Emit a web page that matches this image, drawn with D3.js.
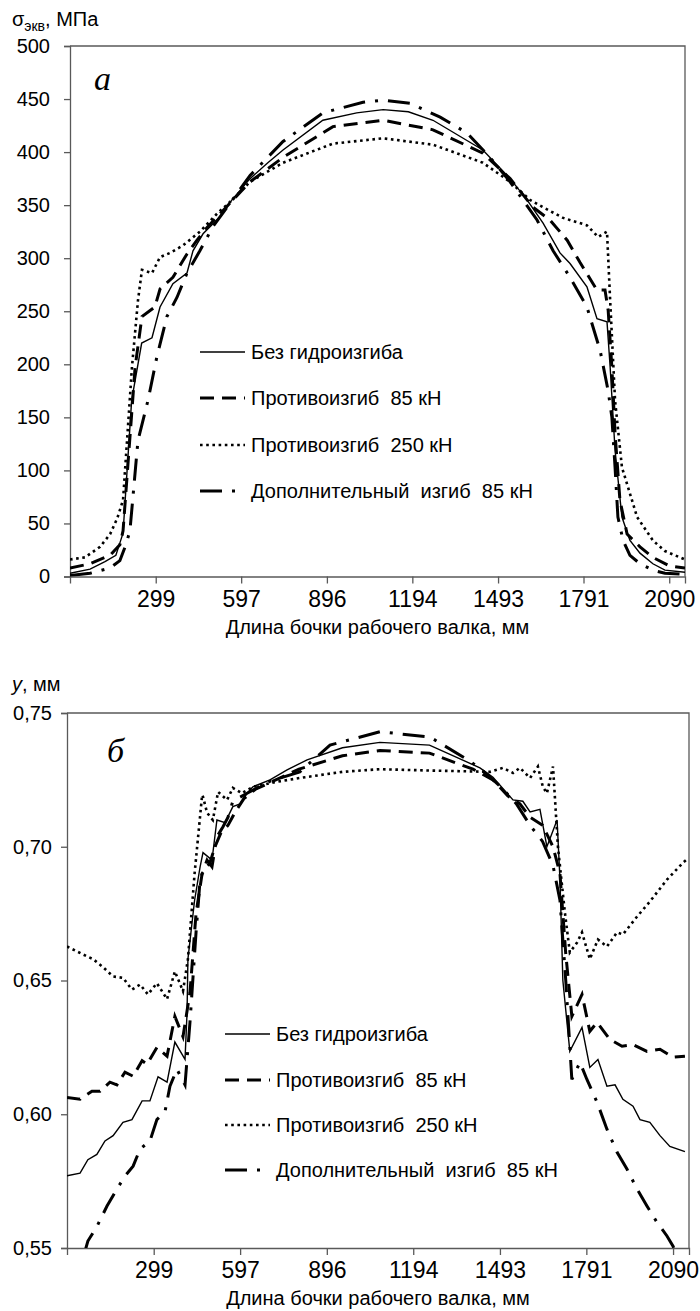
<!doctype html>
<html>
  <head>
    <meta charset="utf-8">
    <title>roll barrel stress and deflection</title>
    <script src="https://d3js.org/d3.v7.min.js"></script>
    <style type="text/css">
      body { margin: 0; background: #fff; }
      svg { display: block; }
      text { font-family: Arial, "Liberation Sans", sans-serif; fill: #000; }
      .xaxis text { font-family: "Liberation Sans Narrow", "Arial Narrow", sans-serif; font-size: 23px; }
      .yaxis text { font-size: 20px; }
      .panel-letter { font-family: "Liberation Serif", "DejaVu Serif", serif; font-style: italic; font-size: 34px; }
    </style>
  </head>
  <body>
    <svg id="chart"></svg>
    <script type="text/javascript">
      // tick labels
      var xTicks = [299, 597, 896, 1194, 1493, 1791, 2090];
      var sigmaTicks = [0, 50, 100, 150, 200, 250, 300, 350, 400, 450, 500];
      var defTicks = [0.55, 0.60, 0.65, 0.70, 0.75];

      var seriesNames = ['Без гидроизгиба', 'Противоизгиб  85 кН', 'Противоизгиб  250 кН', 'Дополнительный  изгиб  85 кН'];

      // (а) equivalent stress, MPa  [position mm, value]
      var sigmaNone = [[0,3],[70,7],[122,14],[160,20],[178,35],[185,41],[215,166],[250,220],[286,225],[314,254],[359,276],[408,286],[429,307],[464,323],[523,339],[565,355],[628,375],[690,390],[743,402],[882,430],[1000,437],[1092,440],[1180,438],[1266,430],[1440,402],[1535,375],[1594,355],[1650,333],[1709,305],[1744,295],[1803,273],[1838,243],[1873,240],[1884,197],[1901,119],[1925,56],[1953,34],[1988,22],[2033,12],[2075,6],[2145,4]];
      var sigmaCounter85 = [[0,8],[70,12],[140,20],[174,30],[185,43],[227,197],[251,245],[296,254],[314,271],[359,282],[408,304],[443,317],[478,329],[534,345],[628,372],[743,395],[917,424],[1092,430],[1266,421],[1440,399],[1535,375],[1615,348],[1674,336],[1734,317],[1779,296],[1838,270],[1866,270],[1877,251],[1890,197],[1901,135],[1918,72],[1943,40],[1988,28],[2033,18],[2090,10],[2145,8]];
      var sigmaCounter250 = [[0,16],[52,18],[105,28],[140,40],[165,55],[185,72],[216,197],[237,260],[251,289],[286,286],[314,301],[349,305],[394,312],[453,325],[513,342],[558,353],[628,372],[743,390],[917,408],[1092,413],[1266,407],[1440,390],[1535,372],[1604,355],[1650,348],[1720,338],[1803,331],[1842,320],[1873,325],[1884,260],[1901,166],[1925,103],[1978,56],[2033,34],[2075,24],[2145,16]];
      var sigmaExtra85 = [[0,1],[70,3],[140,8],[174,15],[195,30],[209,43],[237,128],[272,166],[303,207],[338,245],[373,263],[408,286],[453,307],[499,330],[548,348],[628,378],[743,410],[882,437],[1022,447],[1092,449],[1186,446],[1291,433],[1385,418],[1465,395],[1535,372],[1629,336],[1685,307],[1744,282],[1803,254],[1849,213],[1877,175],[1890,150],[1901,103],[1911,56],[1929,34],[1953,20],[1988,12],[2033,6],[2075,3],[2145,2]];

      // (б) deflection y, mm
      var defNone = [[0,0.577],[45,0.578],[72,0.583],[103,0.585],[131,0.590],[159,0.592],[193,0.597],[224,0.598],[259,0.605],[286,0.605],[314,0.614],[345,0.612],[372,0.627],[407,0.6205],[414,0.638],[417,0.658],[440,0.680],[459,0.6925],[469,0.6978],[500,0.695],[517,0.710],[545,0.709],[572,0.715],[597,0.716],[621,0.720],[641,0.7224],[700,0.725],[759,0.7287],[828,0.7325],[950,0.737],[1079,0.739],[1250,0.738],[1424,0.7295],[1469,0.726],[1538,0.7175],[1572,0.717],[1597,0.713],[1631,0.714],[1655,0.700],[1690,0.710],[1700,0.688],[1710,0.650],[1734,0.6235],[1776,0.6325],[1803,0.6175],[1831,0.6205],[1862,0.6105],[1890,0.611],[1917,0.6056],[1952,0.603],[1976,0.598],[2010,0.597],[2045,0.592],[2079,0.588],[2131,0.586]];
      var defCounter85 = [[0,0.6063],[45,0.6056],[86,0.6086],[114,0.6086],[148,0.612],[172,0.611],[200,0.6157],[228,0.6142],[259,0.620],[276,0.6187],[310,0.625],[345,0.6217],[372,0.6366],[400,0.629],[424,0.6455],[445,0.675],[466,0.690],[493,0.694],[510,0.700],[530,0.705],[555,0.708],[580,0.713],[610,0.718],[650,0.7215],[720,0.725],[800,0.729],[950,0.734],[1079,0.736],[1250,0.735],[1400,0.729],[1469,0.725],[1520,0.719],[1562,0.716],[1597,0.711],[1640,0.708],[1676,0.700],[1700,0.690],[1720,0.660],[1741,0.6366],[1776,0.6448],[1803,0.631],[1828,0.6343],[1872,0.628],[1914,0.6254],[1952,0.626],[2000,0.6235],[2045,0.6243],[2090,0.6213],[2131,0.6217]];
      var defCounter250 = [[0,0.6627],[69,0.659],[90,0.658],[124,0.655],[159,0.6515],[193,0.651],[224,0.6466],[252,0.6485],[279,0.6448],[310,0.649],[345,0.643],[372,0.6534],[400,0.646],[417,0.658],[440,0.690],[466,0.7194],[469,0.7187],[483,0.7127],[503,0.710],[521,0.7205],[552,0.7175],[572,0.722],[603,0.720],[641,0.7224],[724,0.7243],[803,0.7257],[950,0.728],[1079,0.729],[1250,0.7285],[1459,0.728],[1503,0.7295],[1538,0.7276],[1562,0.7295],[1597,0.7257],[1624,0.730],[1641,0.7224],[1655,0.720],[1676,0.730],[1693,0.700],[1717,0.6754],[1734,0.6605],[1759,0.6642],[1776,0.668],[1803,0.658],[1831,0.6653],[1862,0.6627],[1897,0.668],[1917,0.6672],[1966,0.6739],[2010,0.6795],[2069,0.6877],[2124,0.694],[2135,0.695]];
      var defExtra85 = [[60,0.548],[72,0.5526],[103,0.558],[138,0.5657],[172,0.572],[200,0.5769],[228,0.5806],[252,0.587],[286,0.590],[310,0.598],[338,0.601],[355,0.6105],[379,0.6168],[407,0.611],[424,0.6343],[445,0.668],[459,0.6877],[483,0.695],[500,0.6925],[517,0.7037],[538,0.7075],[555,0.711],[572,0.717],[621,0.720],[700,0.7245],[803,0.728],[907,0.738],[1079,0.743],[1252,0.741],[1390,0.732],[1450,0.727],[1500,0.722],[1550,0.716],[1597,0.708],[1640,0.702],[1676,0.693],[1700,0.680],[1720,0.650],[1741,0.613],[1769,0.6194],[1793,0.613],[1828,0.6045],[1862,0.5944],[1897,0.5858],[1931,0.5795],[1966,0.572],[2000,0.5657],[2034,0.5597],[2069,0.5545],[2090,0.5507],[2100,0.548]];

      // line looks, same order as seriesNames
      var styles = [
        { width: 1.4, dash: null, legendLen: 45 },
        { width: 3, dash: '14,8', legendLen: 45 },
        { width: 2.6, dash: '2.6,3.6', legendLen: 45 },
        { width: 3, dash: '22,10,3,10', legendLen: 35 }
      ];

      var W = 700, H = 1311;
      var svg = d3.select('#chart').attr('width', W).attr('height', H);

      var commaFmt = d3.formatLocale({ decimal: ',', thousands: ' ', grouping: [3], currency: ['', ''] }).format('.2f');

      function drawPanel(p) {
        var x = d3.scaleLinear().domain([0, 2145]).range([p.left, p.right]);
        var y = d3.scaleLinear().domain(p.domain).range([p.bottom, p.top]);
        var g = svg.append('g');

        g.append('clipPath').attr('id', p.id + '-clip')
          .append('rect')
          .attr('x', p.left).attr('y', p.top)
          .attr('width', p.right - p.left).attr('height', p.bottom - p.top);

        // frame (top and right)
        g.append('path')
          .attr('d', 'M' + p.left + ',' + p.top + 'H' + p.right + 'V' + p.bottom)
          .attr('fill', 'none').attr('stroke', '#595959').attr('stroke-width', 1.3);

        var yAxis = g.append('g').attr('class', 'yaxis')
          .attr('transform', 'translate(' + p.left + ',0)')
          .call(d3.axisLeft(y).tickValues(p.ticks).tickSize(6).tickPadding(p.yPad).tickFormat(p.fmt));
        var xAxis = g.append('g').attr('class', 'xaxis')
          .attr('transform', 'translate(0,' + p.bottom + ')')
          .call(d3.axisBottom(x).tickValues(xTicks).tickSize(7).tickPadding(7).tickFormat(d3.format('d')));
        [yAxis, xAxis].forEach(function(a) {
          a.select('.domain').attr('stroke', '#595959').attr('stroke-width', 1.3);
          a.selectAll('.tick line').attr('stroke', '#595959').attr('stroke-width', 1.3);
          a.selectAll('.tick text').attr('fill', '#000');
        });

        var line = d3.line()
          .x(function(d) { return x(d[0]); })
          .y(function(d) { return y(d[1]); });

        g.append('g').attr('clip-path', 'url(#' + p.id + '-clip)')
          .selectAll('path')
          .data(p.series)
          .enter()
          .append('path')
          .attr('d', function(d) { return line(d); })
          .attr('fill', 'none')
          .attr('stroke', '#000')
          .attr('stroke-width', function(d, i) { return styles[i].width; })
          .attr('stroke-dasharray', function(d, i) { return styles[i].dash; });

        // legend
        var lg = g.append('g');
        seriesNames.forEach(function(name, i) {
          var ly = p.legendY[i];
          lg.append('line')
            .attr('x1', p.legendX).attr('x2', p.legendX + styles[i].legendLen)
            .attr('y1', ly).attr('y2', ly)
            .attr('stroke', '#000')
            .attr('stroke-width', styles[i].width)
            .attr('stroke-dasharray', styles[i].dash);
          lg.append('text')
            .attr('x', p.legendX + 51).attr('y', ly).attr('dy', '0.35em')
            .style('font-size', '20px')
            .style('white-space', 'pre')
            .text(name);
        });

        g.append('text')
          .attr('x', (p.left + p.right) / 2).attr('y', p.bottom + 57)
          .attr('text-anchor', 'middle')
          .style('font-size', '20px')
          .text('Длина бочки рабочего валка, мм');

        g.append('text').attr('class', 'panel-letter')
          .attr('x', p.letterX).attr('y', p.letterY)
          .text(p.letter);
      }

      drawPanel({
        id: 'a', left: 70, right: 685, top: 46, bottom: 576.5,
        domain: [0, 500], ticks: sigmaTicks, yPad: 14, fmt: d3.format('d'),
        series: [sigmaNone, sigmaCounter85, sigmaCounter250, sigmaExtra85],
        legendX: 200, legendY: [352, 398, 445, 491],
        letter: 'а', letterX: 94, letterY: 90
      });

      drawPanel({
        id: 'b', left: 67, right: 689, top: 713, bottom: 1248,
        domain: [0.55, 0.75], ticks: defTicks, yPad: 9, fmt: commaFmt,
        series: [defNone, defCounter85, defCounter250, defExtra85],
        legendX: 225, legendY: [1034, 1080, 1125, 1170],
        letter: 'б', letterX: 107, letterY: 762
      });

      // y axis titles
      var t1 = svg.append('text').attr('x', 12).attr('y', 26).style('font-size', '20px');
      t1.append('tspan').text('σ');
      t1.append('tspan').attr('dy', 5).style('font-size', '14px').text('экв');
      t1.append('tspan').attr('dy', -5).text(', МПа');

      var t2 = svg.append('text').attr('x', 12).attr('y', 691).style('font-size', '20px');
      t2.append('tspan').style('font-style', 'italic').text('y');
      t2.append('tspan').text(', мм');
    </script>
  </body>
</html>
